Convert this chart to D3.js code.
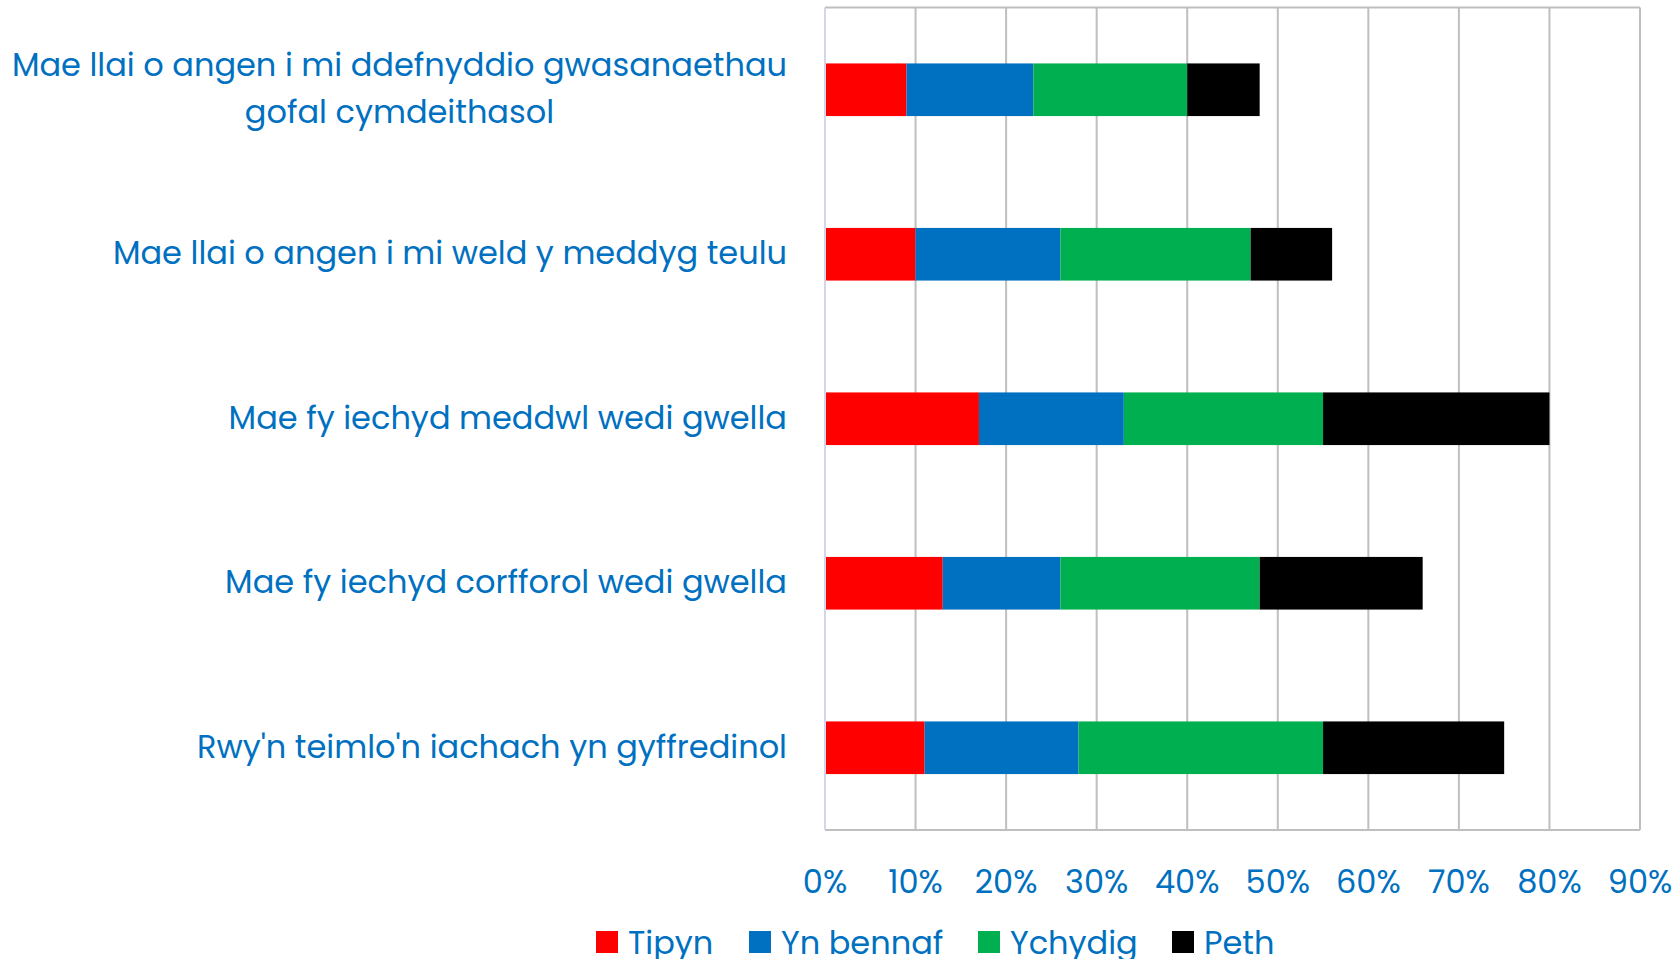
<!DOCTYPE html>
<html>
  <head>
    <script src="https://cdn.jsdelivr.net/npm/d3@7"></script>
    <style>
      body { margin: 0; background: #fff; }
      text { font-family: Poppins, "DejaVu Sans", sans-serif; fill: #0070c0; }
    </style>
  </head>
  <body>
    <script>
    // categories, top to bottom (multi-line labels split with |)
    var categories = [
      "Mae llai o angen i mi ddefnyddio gwasanaethau|gofal cymdeithasol",
      "Mae llai o angen i mi weld y meddyg teulu",
      "Mae fy iechyd meddwl wedi gwella",
      "Mae fy iechyd corfforol wedi gwella",
      "Rwy'n teimlo'n iachach yn gyffredinol"
    ];
    var seriesNames = ["Tipyn", "Yn bennaf", "Ychydig", "Peth"];
    var seriesColors = ["#ff0000", "#0070c0", "#00b050", "#000000"];
    // percent values per series, same order as categories
    var tipyn    = [9, 10, 17, 13, 11];
    var ynBennaf = [14, 16, 16, 13, 17];
    var ychydig  = [17, 21, 22, 22, 27];
    var peth     = [8, 9, 25, 18, 20];
    var xTicks = [0, 10, 20, 30, 40, 50, 60, 70, 80, 90];

    var width = 1675, height = 959;
    var pLeft = 825, pRight = 1640, pTop = 7.5, pBottom = 830;
    var fs = 32;

    var svg = d3.select('body').append('svg')
      .attr('width', width)
      .attr('height', height);

    var x = d3.scaleLinear().domain([0, 90]).range([pLeft, pRight]);
    var y = d3.scaleBand().domain(d3.range(categories.length))
      .range([pTop, pBottom]).paddingInner(0.68).paddingOuter(0.34);

    // gridlines
    svg.append('g').selectAll('line')
      .data(xTicks.slice(1))
      .enter().append('line')
      .attr('x1', function(d) { return x(d); })
      .attr('x2', function(d) { return x(d); })
      .attr('y1', pTop).attr('y2', pBottom)
      .attr('stroke', '#bfbfbf').attr('stroke-width', 2);
    svg.append('line').attr('x1', pLeft).attr('x2', pRight).attr('y1', pTop).attr('y2', pTop)
      .attr('stroke', '#bfbfbf').attr('stroke-width', 2);
    svg.append('line').attr('x1', pLeft).attr('x2', pRight).attr('y1', pBottom).attr('y2', pBottom)
      .attr('stroke', '#bfbfbf').attr('stroke-width', 2);

    // stacked bars
    var rows = categories.map(function(c, i) {
      return { i: i, Tipyn: tipyn[i], "Yn bennaf": ynBennaf[i], Ychydig: ychydig[i], Peth: peth[i] };
    });
    var stacked = d3.stack().keys(seriesNames)(rows);

    svg.append('g').selectAll('g')
      .data(stacked)
      .enter().append('g')
      .attr('fill', function(d, i) { return seriesColors[i]; })
      .selectAll('rect')
      .data(function(d) { return d; })
      .enter().append('rect')
      .attr('x', function(d) { return x(d[0]); })
      .attr('width', function(d) { return x(d[1]) - x(d[0]); })
      .attr('y', function(d) { return y(d.data.i); })
      .attr('height', y.bandwidth());

    // left axis line
    svg.append('line').attr('x1', pLeft).attr('x2', pLeft).attr('y1', pTop).attr('y2', pBottom)
      .attr('stroke', '#d4d4ec').attr('stroke-width', 2);

    // category labels
    var labelX = 787;
    categories.forEach(function(c, i) {
      var lines = c.split('|');
      var cy = y(i) + y.bandwidth() / 2 - 2;
      var t = svg.append('text')
        .attr('font-size', fs)
        .attr('dominant-baseline', 'central');
      lines.forEach(function(l, j) {
        t.append('tspan').text(l)
          .attr('y', cy + (j - (lines.length - 1) / 2) * 47);
      });
      // right align block, center lines within it
      var w = d3.max(t.selectAll('tspan').nodes(), function(n) { return n.getComputedTextLength(); });
      t.selectAll('tspan').attr('x', labelX - w / 2).attr('text-anchor', 'middle');
    });

    // x tick labels
    svg.append('g').selectAll('text')
      .data(xTicks)
      .enter().append('text')
      .attr('x', function(d) { return x(d); })
      .attr('y', 881)
      .attr('text-anchor', 'middle')
      .attr('dominant-baseline', 'central')
      .attr('font-size', fs)
      .text(function(d) { return d + '%'; });

    // legend
    var legendX = [596, 749, 978, 1172];
    var lg = svg.append('g').selectAll('g')
      .data(seriesNames)
      .enter().append('g')
      .attr('transform', function(d, i) { return 'translate(' + legendX[i] + ',942)'; });
    lg.append('rect').attr('x', 0).attr('y', -11).attr('width', 22).attr('height', 22)
      .attr('fill', function(d, i) { return seriesColors[i]; });
    lg.append('text').attr('x', 32).attr('y', 0)
      .attr('dominant-baseline', 'central')
      .attr('font-size', fs)
      .text(function(d) { return d; });
    </script>
  </body>
</html>
